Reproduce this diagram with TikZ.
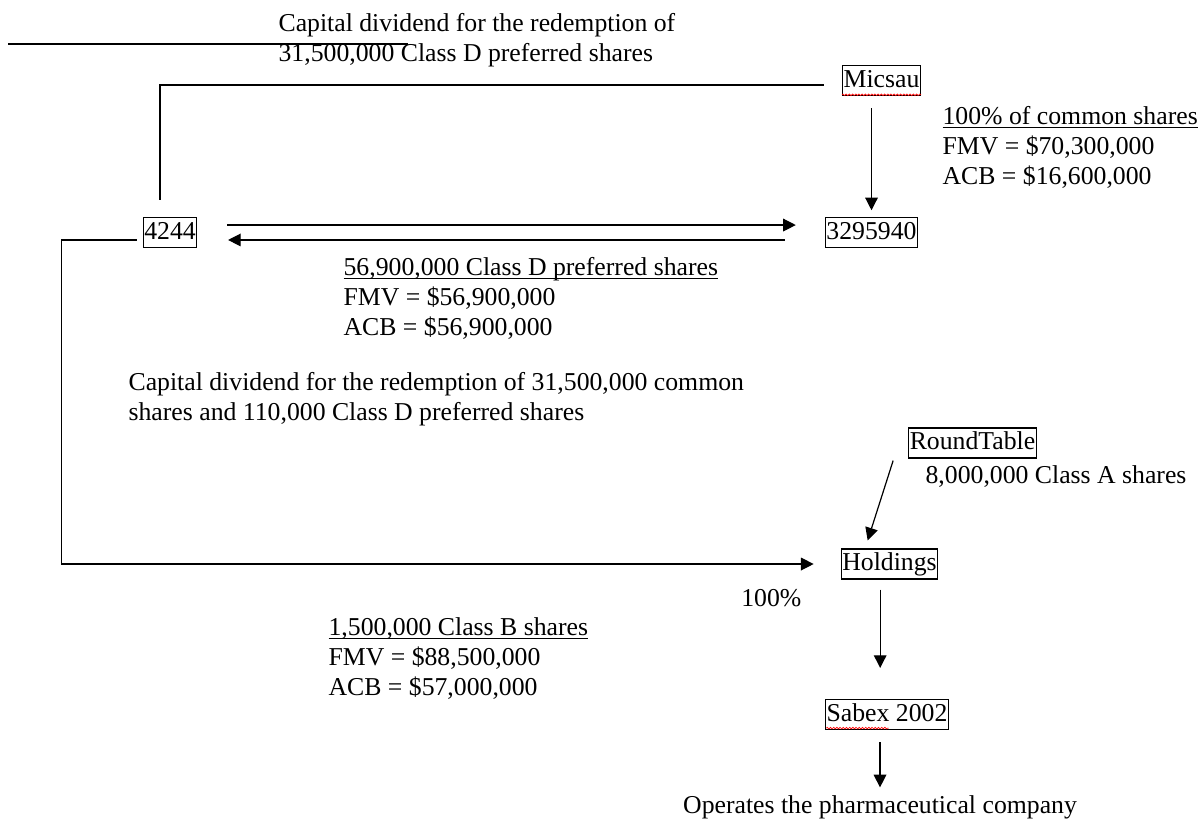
\documentclass[tikz,border=0pt]{standalone}
\usepackage{fontspec}
\setmainfont{Liberation Serif}
\usetikzlibrary{arrows.meta,decorations.pathmorphing}

\newcommand{\undr}[1]{\setbox0=\hbox{#1}\rlap{\rule[-2.6pt]{\wd0}{0.75pt}}\box0}

\begin{document}
\begin{tikzpicture}[x=0.75pt,y=-0.75pt,line width=0.9pt,
    font=\fontsize{19.3}{22.5}\selectfont,
    box/.style={draw,inner xsep=0.8pt,inner ysep=1.75pt,text height=14.5pt,text depth=4.5pt},
    txt/.style={inner sep=0pt,anchor=west,align=left},
    arr/.style={-{Triangle[length=9.5pt,width=9.5pt]}},
    squiggle/.style={red,line width=0.5pt,decorate,decoration={snake,amplitude=0.6pt,segment length=2.4pt}}]
  \useasboundingbox (0,0) rectangle (1201,819);

  % companies
  \node (micsau)     at (881.5,80.5) [box] {Micsau};
  \node (n4244)      at (170,232.5)  [box] {4244};
  \node (n3295940)   at (871.5,232.5) [box] {3295940};
  \node (roundtable) at (972.5,443)  [box] {RoundTable};
  \node (holdings)   at (889.5,564)  [box] {Holdings};
  \node (sabex)      at (887,714.5)  [box] {Sabex 2002};

  % labels
  \node (capdivtop) at (278,40)    [txt] {Capital dividend for the redemption of\\31,500,000 Class D preferred shares};
  \node (commonlbl) at (942,147)   [txt] {\undr{100\% of common shares}\\FMV = \$70,300,000\\ACB = \$16,600,000};
  \node (classdlbl) at (343,298.5) [txt] {\undr{56,900,000 Class D preferred shares}\\FMV = \$56,900,000\\ACB = \$56,900,000};
  \node (capdivmid) at (128,399.5) [txt] {Capital dividend for the redemption of 31,500,000 common\\shares and 110,000 Class D preferred shares};
  \node (classalbl) at (925,476.5) [txt] {8,000,000 Class A shares};
  \node (pctlbl)    at (802,598)   [inner sep=0pt,anchor=east] {100\%};
  \node (classblbl) at (328,659)   [txt] {\undr{1,500,000 Class B shares}\\FMV = \$88,500,000\\ACB = \$57,000,000};
  \node (operates)  at (880,807)   [inner sep=0pt] {Operates the pharmaceutical company};

  % spelling marks
  \draw[squiggle] ([yshift=1pt]micsau.south west) -- ([yshift=1pt]micsau.south east);
  \draw[squiggle] ([xshift=1pt,yshift=1.5pt]sabex.south west) -- ([xshift=48pt,yshift=1.5pt]sabex.south west);

  % connectors
  \coordinate (topA) at (8,44);
  \coordinate (topB) at (408,44);
  \draw (topA) -- (topB);
  \draw ([xshift=-13.5pt,yshift=-3.4pt]micsau.west) -| ([xshift=-7.5pt,yshift=12.75pt]n4244.north);
  \draw[arr,shorten <=9pt,shorten >=5pt] (n3295940.north |- micsau.south) -- (n3295940.north);
  \draw[arr,shorten <=22.5pt,shorten >=21.75pt] ([yshift=5.6pt]n4244.east) -- ([yshift=5.6pt]n3295940.west);
  \draw[arr,shorten <=30pt,shorten >=23pt] ([yshift=-5.6pt]n3295940.west) -- ([yshift=-5.6pt]n4244.east);
  \draw[arr] ([xshift=-4.5pt,yshift=-5.6pt]n4244.west) -- ++(-56.25pt,0) |- ([xshift=-20.25pt]holdings.west);
  \draw[arr] ([xshift=-11.25pt,yshift=-1.5pt]roundtable.south west) -- ([xshift=20.25pt,yshift=6pt]holdings.north west);
  \draw[arr,shorten <=7.5pt,shorten >=23.25pt] ([xshift=-7pt]holdings.south) -- ([xshift=-7pt]holdings.south |- sabex.north);
  \draw[arr,shorten <=9pt,shorten >=5.5pt] (sabex.south -| operates.north) -- (operates.north);
\end{tikzpicture}
\end{document}
